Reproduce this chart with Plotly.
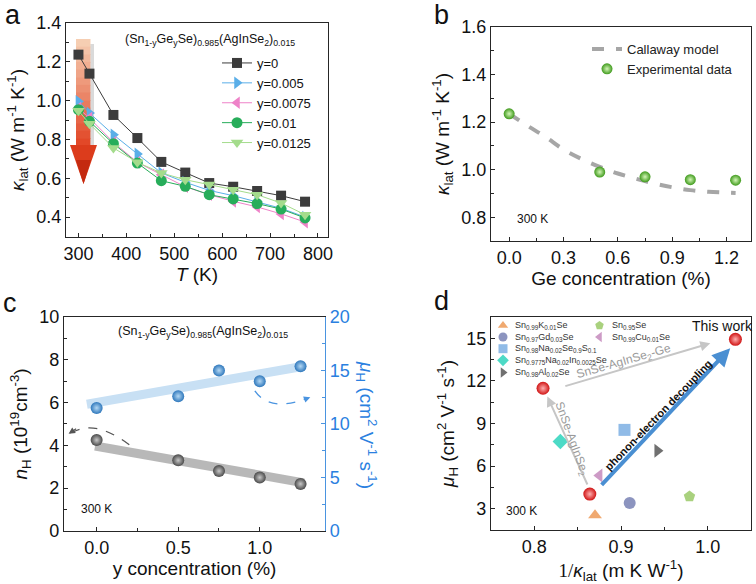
import plotly.graph_objects as go

W, H = 756, 584

# ---------------- data ----------------
# panel a
T = [300, 323, 373, 423, 473, 523, 573, 623, 673, 723, 773]
k_y0 = [1.237, 1.139, 0.926, 0.807, 0.684, 0.629, 0.575, 0.556, 0.534, 0.510, 0.479]
k_y005 = [0.996, 0.936, 0.824, 0.725, 0.627, 0.579, 0.537, 0.510, 0.479, 0.445, 0.400]
k_y0075 = [0.962, 0.910, 0.785, 0.682, 0.618, 0.556, 0.515, 0.481, 0.452, 0.416, 0.374]
k_y01 = [0.953, 0.893, 0.778, 0.678, 0.587, 0.558, 0.515, 0.493, 0.469, 0.441, 0.395]
k_y0125 = [0.948, 0.881, 0.756, 0.682, 0.627, 0.592, 0.567, 0.541, 0.515, 0.472, 0.412]
series_a = [
    ("y=0", k_y0, "#3c3c3c", "square"),
    ("y=0.005", k_y005, "#5aaee8", "triangle-right"),
    ("y=0.0075", k_y0075, "#ee82c8", "triangle-left"),
    ("y=0.01", k_y01, "#27ad5a", "circle"),
    ("y=0.0125", k_y0125, "#a4dc8c", "triangle-down"),
]

# panel b
ge_model = [0.0, 0.1, 0.2, 0.3, 0.4, 0.5, 0.6, 0.7, 0.8, 0.9, 1.0, 1.1, 1.25]
k_model = [1.235, 1.185, 1.138, 1.085, 1.045, 1.012, 0.984, 0.962, 0.942, 0.926, 0.914, 0.907, 0.902]
ge_exp = [0.0, 0.5, 0.75, 1.0, 1.25]
k_exp = [1.235, 0.99, 0.97, 0.958, 0.956]

# panel c
y_conc = [0.0, 0.5, 0.75, 1.0, 1.25]
n_H = [4.25, 3.30, 2.80, 2.50, 2.20]
mu_H = [11.5, 12.6, 15.0, 14.0, 15.4]
fit_n_x = [-0.01, 1.27]
fit_n_y = [3.97, 2.25]
fit_mu_x = [-0.06, 1.27]
fit_mu_y = [11.85, 15.4]

# panel d
ref_names = ["Sn<sub>0.99</sub>K<sub>0.01</sub>Se", "Sn<sub>0.97</sub>Gd<sub>0.03</sub>Se",
             "Sn<sub>0.98</sub>Na<sub>0.02</sub>Se<sub>0.9</sub>S<sub>0.1</sub>",
             "Sn<sub>0.9775</sub>Na<sub>0.02</sub>In<sub>0.0025</sub>Se",
             "Sn<sub>0.98</sub>Al<sub>0.02</sub>Se", "Sn<sub>0.95</sub>Se",
             "Sn<sub>0.99</sub>Cu<sub>0.01</sub>Se"]
ref_x = [0.870, 0.910, 0.904, 0.830, 0.942, 0.979, 0.875]
ref_y = [2.53, 3.40, 8.55, 7.73, 7.08, 3.86, 5.34]
ref_colors = ["#eea060", "#8088b8", "#84b4e4", "#3ad6c0", "#606060", "#a0cc70", "#c890c0"]
ref_symbols = ["triangle-up", "circle", "square", "diamond", "triangle-right", "pentagon", "triangle-left"]
this_x = [0.864, 0.810, 1.032]
this_y = [4.03, 11.48, 14.93]

FONT = "Liberation Sans, Arial, sans-serif"


def P(xp, yp):
    return xp / W, 1 - yp / H


fig = go.Figure()

# ---- panel a ----
for name, vals, col, sym in series_a:
    fig.add_trace(go.Scatter(x=T, y=vals, mode="lines+markers", name=name,
                             line=dict(color=col, width=1),
                             marker=dict(symbol=sym, size=10 if sym == "square" else 11, color=col,
                                         line=dict(width=0)),
                             xaxis="x", yaxis="y", legend="legend"))

# ---- panel b ----
fig.add_trace(go.Scatter(x=ge_model, y=k_model, mode="lines", name="Callaway model",
                         line=dict(color="#a6a6a6", width=4, dash="dash", shape="spline"),
                         xaxis="x2", yaxis="y2", legend="legend2"))
fig.add_trace(go.Scatter(x=ge_exp, y=k_exp, mode="markers", name="Experimental data",
                         marker=dict(size=11, color="#3f9a1c",
                                     gradient=dict(type="radial", color="#d4f7b8"),
                                     line=dict(width=0)),
                         xaxis="x2", yaxis="y2", legend="legend2"))

# ---- panel c ----
fig.add_trace(go.Scatter(x=fit_n_x, y=fit_n_y, mode="lines", showlegend=False,
                         line=dict(color="rgba(160,160,160,0.75)", width=9),
                         xaxis="x3", yaxis="y3"))
fig.add_trace(go.Scatter(x=fit_mu_x, y=fit_mu_y, mode="lines", showlegend=False,
                         line=dict(color="#c8e0f4", width=9),
                         xaxis="x3", yaxis="y6"))
fig.add_trace(go.Scatter(x=y_conc, y=n_H, mode="markers", showlegend=False,
                         marker=dict(size=12, color="#4a4a4a",
                                     gradient=dict(type="radial", color="#c8c8c8"),
                                     line=dict(width=0)),
                         xaxis="x3", yaxis="y3"))
fig.add_trace(go.Scatter(x=y_conc, y=mu_H, mode="markers", showlegend=False,
                         marker=dict(size=12, color="#2f78bc",
                                     gradient=dict(type="radial", color="#b4d8f4"),
                                     line=dict(width=0)),
                         xaxis="x3", yaxis="y6"))

# ---- panel d ----
for nm, xx, yy, col, sym in zip(ref_names, ref_x, ref_y, ref_colors, ref_symbols):
    fig.add_trace(go.Scatter(x=[xx], y=[yy], mode="markers", showlegend=False,
                             marker=dict(symbol=sym, size=12, color=col, opacity=0.9,
                                         line=dict(width=0)),
                             xaxis="x4", yaxis="y4"))
fig.add_trace(go.Scatter(x=this_x, y=this_y, mode="markers", showlegend=False,
                         marker=dict(size=13, color="#d01414",
                                     gradient=dict(type="radial", color="#ffb0b0"),
                                     line=dict(width=0)),
                         xaxis="x4", yaxis="y4"))

# manual legend for panel d on a pixel-space helper axis
leg_pos = [(503, 325.5), (503, 337), (503, 348.7), (503, 360.3), (503, 372.5), (599.5, 325.5), (599.5, 337)]
for (mx, my), nm, col, sym in zip(leg_pos, ref_names, ref_colors, ref_symbols):
    fig.add_trace(go.Scatter(x=[mx], y=[my], mode="markers", showlegend=False,
                             marker=dict(symbol=sym, size=9, color=col, opacity=0.9, line=dict(width=0)),
                             xaxis="x5", yaxis="y5", hoverinfo="skip"))

# ---------------- layout ----------------
def ax(domain, rng, dtick, minor_dtick, title=None, standoff=None, **kw):
    d = dict(domain=domain, range=rng, dtick=dtick, tick0=0, showgrid=False, zeroline=False,
             automargin=False,
             showline=True, linecolor="#262626", linewidth=1.2, mirror=True,
             ticks="inside", ticklen=4, tickwidth=1.2, tickcolor="#262626",
             minor=dict(ticks="inside", ticklen=2.5, tickwidth=1, dtick=minor_dtick,
                        tickcolor="#262626", showgrid=False),
             tickfont=dict(size=18, color="#111", family=FONT))
    if title is not None:
        d["title"] = dict(text=title, font=dict(size=19, color="#111", family=FONT), standoff=standoff)
    d.update(kw)
    return d

klat = "<i>κ</i><sub>lat</sub> (W m<sup>-1</sup> K<sup>-1</sup>)"

layout = dict(
    template="none",
    width=W, height=H, margin=dict(l=0, r=0, t=0, b=0, pad=0), autosize=False,
    paper_bgcolor="white", plot_bgcolor="rgba(0,0,0,0)",
    font=dict(family=FONT, color="#111"),
    xaxis=ax([0.0873, 0.4339], [274, 821], 100, 50, "<i>T</i> (K)", 4, anchor="y", tick0=300),
    yaxis=ax([0.5942, 0.9606], [0.297, 1.4], 0.2, 0.1, klat, 6, anchor="x", tick0=0.4, tickformat=".1f"),
    xaxis2=ax([0.6495, 0.9934], [-0.1, 1.335], 0.3, 0.15, "Ge concentration (%)", 4, anchor="y2", tickformat=".1f"),
    yaxis2=ax([0.5873, 0.9538], [0.70, 1.6], 0.2, 0.1, klat, 6, anchor="x2", tick0=0.8, tickformat=".1f"),
    xaxis3=ax([0.0847, 0.4299], [-0.2, 1.4], 0.5, 0.25, "y concentration (%)", 4, anchor="y3", tickformat=".1f"),
    yaxis3=ax([0.0908, 0.4572], [0, 10], 2, 1,
              "<i>n</i><sub>H</sub> (10<sup>19</sup>cm<sup>-3</sup>)", 6, anchor="x3", mirror=False),
    yaxis6=dict(domain=[0.0908, 0.4572], range=[0, 20], dtick=5, overlaying="y3", side="right",
                anchor="x3", showgrid=False, zeroline=False, showline=True, linecolor="#4a94e0",
                automargin=False,
                linewidth=1.2, ticks="inside", ticklen=4, tickwidth=1.2, tickcolor="#4a94e0",
                minor=dict(ticks="inside", ticklen=2.5, dtick=2.5, tickcolor="#4a94e0"),
                tickfont=dict(size=18, color="#2a80e0", family=FONT)),
    xaxis4=ax([0.6495, 0.9934], [0.75, 1.05], 0.1, 0.05,
              '<span style="font-family:Liberation Serif">1/</span><i>κ</i><sub>lat</sub> (m K W<sup>-1</sup>)',
              4, anchor="y4", tick0=0.8, tickformat=".1f"),
    yaxis4=ax([0.0925, 0.4572], [1.5, 16.5], 3, 1.5,
              "<i>μ</i><sub>H</sub> (cm<sup>2</sup> V<sup>-1</sup> s<sup>-1</sup>)", 6, anchor="x4", tick0=0),
    xaxis5=dict(domain=[0, 1], range=[0, W], visible=False, anchor="y5", fixedrange=True, automargin=False),
    yaxis5=dict(domain=[0, 1], range=[H, 0], visible=False, anchor="x5", fixedrange=True, automargin=False),
    legend=dict(x=P(217, 0)[0], y=P(0, 48)[1], xanchor="left", yanchor="top",
                bgcolor="rgba(0,0,0,0)", font=dict(size=13, family=FONT, color="#111"),
                tracegroupgap=0, itemwidth=30),
    legend2=dict(x=P(587, 0)[0], y=P(0, 34)[1], xanchor="left", yanchor="top",
                 bgcolor="rgba(0,0,0,0)", font=dict(size=13, family=FONT, color="#222"),
                 tracegroupgap=0, itemwidth=30),
)
fig.update_layout(**layout)

# ---------------- decorative shapes ----------------
shapes = []
# gradient arrow in panel a
n = 14
top, bot = 39, 146
c0, c1 = (246, 206, 178), (226, 72, 40)
for i in range(n):
    f = i / (n - 1)
    col = tuple(int(c0[j] + (c1[j] - c0[j]) * f) for j in range(3))
    y0p = top + (bot - top) * i / n
    y1p = top + (bot - top) * (i + 1) / n + 0.6
    xa, ya = P(76, y0p)
    xb, yb = P(90.5, y1p)
    shapes.append(dict(type="rect", xref="paper", yref="paper", x0=xa, x1=xb, y0=yb, y1=ya,
                       fillcolor="rgb(%d,%d,%d)" % col, line=dict(width=0), layer="below"))
xa, ya = P(90.5, 44)
xb, yb = P(94, 146)
shapes.append(dict(type="rect", xref="paper", yref="paper", x0=xa, x1=xb, y0=yb, y1=ya,
                   fillcolor="rgba(150,150,150,0.35)", line=dict(width=0), layer="below"))


def path_px(pts):
    s = ""
    for i, (xp, yp) in enumerate(pts):
        xx, yy = P(xp, yp)
        s += ("M" if i == 0 else "L") + " %.5f %.5f " % (xx, yy)
    return s + "Z"


shapes.append(dict(type="path", xref="paper", yref="paper", path=path_px([(70, 145), (97, 145), (83.5, 184)]),
                   fillcolor="#dc3c1c", line=dict(width=0), layer="below"))
shapes.append(dict(type="path", xref="paper", yref="paper", path=path_px([(76, 160), (91, 160), (83.5, 184)]),
                   fillcolor="#c42a10", line=dict(width=0), layer="below"))

# dashed curved arrows in panel c (data coords)
shapes.append(dict(type="path", xref="x3", yref="y3", path="M 0.2,4.03 Q -0.01,5.23 -0.15,4.6",
                   line=dict(color="#555555", width=1.3, dash="dash")))
shapes.append(dict(type="path", xref="x3", yref="y6", path="M 0.97,13.1 Q 1.06,11.1 1.28,12.35",
                   line=dict(color="#4a94e0", width=1.3, dash="dash")))
fig.update_layout(shapes=shapes)

ann = []


def pann(text, xp, yp, size, color="#111", angle=0):
    xx, yy = P(xp, yp)
    ann.append(dict(text=text, x=xx, y=yy, xref="paper", yref="paper", showarrow=False,
                    xanchor="center", yanchor="middle", textangle=angle,
                    font=dict(size=size, family=FONT, color=color)))


# panel labels
for lab, (xp, yp) in [("a", (13, 15)), ("b", (441, 15)), ("c", (10, 303)), ("d", (441, 301))]:
    pann(lab, xp, yp, 27)
comp = "(Sn<sub>1-y</sub>Ge<sub>y</sub>Se)<sub>0.985</sub>(AgInSe<sub>2</sub>)<sub>0.015</sub>"
pann(comp, 210, 40, 12.5)
pann(comp, 203, 332, 12.5)
pann("<i>μ</i><sub>H</sub> (cm<sup>2</sup> V<sup>-1</sup> s<sup>-1</sup>)", 367, 425, 19, "#2a80e0", 90)

ann.append(dict(text="300 K", x=0.128, y=0.792, xref="x2", yref="y2", showarrow=False,
                font=dict(size=12, family=FONT, color="#111")))
ann.append(dict(text="300 K", x=0.0, y=1.05, xref="x3", yref="y3", showarrow=False,
                font=dict(size=12, family=FONT, color="#111")))
ann.append(dict(text="300 K", x=0.785, y=2.86, xref="x4", yref="y4", showarrow=False,
                font=dict(size=12, family=FONT, color="#111")))
# arrowheads of dashed curves
ann.append(dict(x=-0.172, y=4.54, xref="x3", yref="y3", ax=9, ay=-6, text="", showarrow=True,
                arrowhead=2, arrowsize=1, arrowwidth=1.3, arrowcolor="#555555"))
ann.append(dict(x=1.31, y=12.5, xref="x3", yref="y6", ax=-8, ay=3, text="", showarrow=True,
                arrowhead=2, arrowsize=1, arrowwidth=1.3, arrowcolor="#4a94e0"))
# panel d arrows
ann.append(dict(x=0.815, y=10.9, ax=0.862, ay=4.6, xref="x4", yref="y4", axref="x4", ayref="y4",
                text="", showarrow=True, arrowhead=2, arrowsize=1, arrowwidth=2, arrowcolor="#c6c6c6"))
ann.append(dict(x=1.003, y=14.65, ax=0.834, ay=11.6, xref="x4", yref="y4", axref="x4", ayref="y4",
                text="", showarrow=True, arrowhead=2, arrowsize=1, arrowwidth=2, arrowcolor="#c6c6c6"))
ann.append(dict(x=1.026, y=14.3, ax=0.876, ay=4.57, xref="x4", yref="y4", axref="x4", ayref="y4",
                text="", showarrow=True, arrowhead=2, arrowsize=0.9, arrowwidth=4, arrowcolor="#4a8fd2"))
ann.append(dict(text="SnSe-AgInSe<sub>2</sub>-Ge", x=0.903, y=13.34, xref="x4", yref="y4", showarrow=False,
                textangle=-16, font=dict(size=12, family=FONT, color="#9a9a9a")))
ann.append(dict(text="SnSe-AgInSe<sub>2</sub>", x=0.843, y=7.94, xref="x4", yref="y4", showarrow=False,
                textangle=70, font=dict(size=12, family=FONT, color="#9a9a9a")))
ann.append(dict(text="<b>phonon-electron decoupling</b>", x=0.943, y=9.6, xref="x4", yref="y4",
                showarrow=False, textangle=-46, font=dict(size=11, family=FONT, color="#111")))
ann.append(dict(text="This work", x=1.017, y=15.9, xref="x4", yref="y4", showarrow=False,
                font=dict(size=14, family=FONT, color="#111")))
# legend text panel d
for (mx, my), nm in zip(leg_pos, ref_names):
    ann.append(dict(text=nm, x=mx + 10, y=my, xref="x5", yref="y5", xanchor="left", showarrow=False,
                    font=dict(size=9, family=FONT, color="#333")))
fig.update_layout(annotations=ann)

fig.write_html("out.html", config={"displayModeBar": False},
               post_script="document.body.style.margin='0px';document.body.style.padding='0px';")
